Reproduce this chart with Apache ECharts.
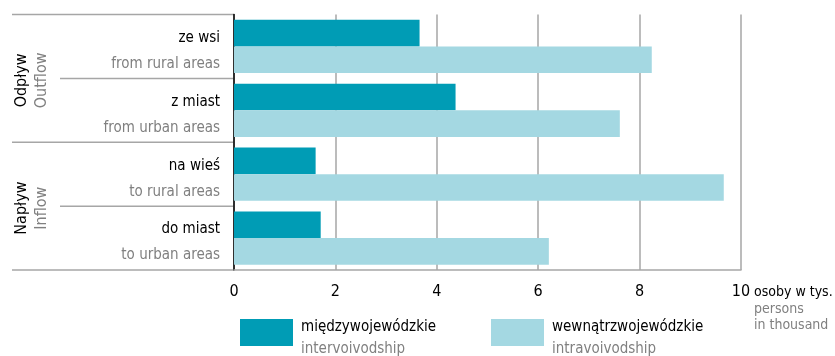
<!DOCTYPE html>
<html>
<head>
<meta charset="utf-8">
<script src="https://cdn.jsdelivr.net/npm/echarts@6/dist/echarts.min.js"></script>
<style>
  html, body { margin: 0; padding: 0; background: #fff; }
  #chart { width: 835px; height: 356px; }
</style>
</head>
<body>
<div id="chart"></div>
<script>
// Migration flows, thousands of persons
const categoriesPl = ['ze wsi', 'z miast', 'na wieś', 'do miast'];
const categoriesEn = ['from rural areas', 'from urban areas', 'to rural areas', 'to urban areas'];
const groupsPl = ['Odpływ', 'Napływ'];
const groupsEn = ['Outflow', 'Inflow'];
const seriesNamesPl = ['międzywojewódzkie', 'wewnątrzwojewódzkie'];
const seriesNamesEn = ['intervoivodship', 'intravoivodship'];
const interVoiv = [3.66, 4.37, 1.61, 1.71];
const intraVoiv = [8.24, 7.61, 9.66, 6.21];
const unitPl = 'osoby w tys.';
const unitEn = ['persons', 'in thousand'];

const FONT = "'Liberation Sans Narrow', 'DejaVu Sans Condensed', 'Roboto Condensed', sans-serif";
const FS = 15;
const DARK = '#009cb5';
const LIGHT = '#a4d8e2';
const GRAY_TXT = '#808080';
const LINE = '#a6a6a6';

const G = { left: 234, top: 14.5, width: 507, height: 255.5 };
const band = G.height / categoriesPl.length;

const chart = echarts.init(document.getElementById('chart'));

// separator lines in the label column
const graphics = [];
for (let k = 0; k <= categoriesPl.length; k++) {
  const y = G.top + band * k;
  const x0 = (k % 2 === 0) ? 12 : 60;
  graphics.push({
    type: 'line', silent: true,
    shape: { x1: x0, y1: y, x2: G.left, y2: y },
    style: { stroke: LINE, lineWidth: 1.5 }
  });
}
// rotated group titles
groupsPl.forEach((g, i) => {
  const cy = G.top + band * (2 * i + 1) + 2;
  graphics.push({
    type: 'text', x: 22, y: cy, rotation: Math.PI / 2,
    style: { text: g, font: '16px ' + FONT, fill: '#000', align: 'center', verticalAlign: 'middle' }
  });
  graphics.push({
    type: 'text', x: 42, y: cy, rotation: Math.PI / 2,
    style: { text: groupsEn[i], font: '16px ' + FONT, fill: GRAY_TXT, align: 'center', verticalAlign: 'middle' }
  });
});
// unit caption next to the last tick
graphics.push({
  type: 'text', left: 754, top: 285,
  style: {
    text: '{a|' + unitPl + '}\n{b|' + unitEn[0] + '}\n{b|' + unitEn[1] + '}',
    rich: {
      a: { font: '14px ' + FONT, fill: '#000', lineHeight: 18 },
      b: { font: '14px ' + FONT, fill: GRAY_TXT, lineHeight: 16 }
    }
  }
});

function legendFor(i, left) {
  return {
    data: [seriesNamesPl[i]],
    left: left, top: 319, padding: 0,
    itemWidth: 53, itemHeight: 27, itemGap: 0,
    icon: 'rect',
    selectedMode: false,
    formatter: () => '{a|' + seriesNamesPl[i] + '}\n{b|' + seriesNamesEn[i] + '}',
    textStyle: {
      padding: [12, 0, 0, 3],
      rich: {
        a: { fontFamily: FONT, fontSize: FS, color: '#000', lineHeight: 22 },
        b: { fontFamily: FONT, fontSize: FS, color: GRAY_TXT, lineHeight: 22 }
      }
    }
  };
}

chart.setOption({
  animation: false,
  textStyle: { fontFamily: FONT },
  grid: { left: G.left, top: G.top, width: G.width, height: G.height, containLabel: false },
  legend: [legendFor(0, 240), legendFor(1, 491)],
  xAxis: {
    type: 'value', min: 0, max: 10, interval: 2,
    axisLine: { show: true, lineStyle: { color: LINE, width: 1.5 } },
    axisTick: { show: false },
    splitLine: { show: true, lineStyle: { color: LINE, width: 1.5 } },
    axisLabel: { fontFamily: FONT, fontSize: 16, color: '#000', margin: 14 }
  },
  yAxis: {
    type: 'category', inverse: true,
    data: categoriesPl,
    axisLine: { show: true, lineStyle: { color: '#000', width: 1.5 } },
    axisTick: { show: false },
    axisLabel: {
      margin: 14,
      padding: [9, 0, 0, 0],
      formatter: (v, idx) => '{a|' + v + '}\n{b|' + categoriesEn[idx] + '}',
      rich: {
        a: { fontFamily: FONT, fontSize: FS, color: '#000', lineHeight: 26, align: 'right' },
        b: { fontFamily: FONT, fontSize: FS, color: GRAY_TXT, lineHeight: 26, align: 'right' }
      }
    }
  },
  series: [
    { name: seriesNamesPl[0], type: 'bar', data: interVoiv, barWidth: 26.6, barGap: '0%', itemStyle: { color: DARK } },
    { name: seriesNamesPl[1], type: 'bar', data: intraVoiv, barWidth: 26.6, barGap: '0%', itemStyle: { color: LIGHT } }
  ],
  graphic: graphics
});
</script>
</body>
</html>
